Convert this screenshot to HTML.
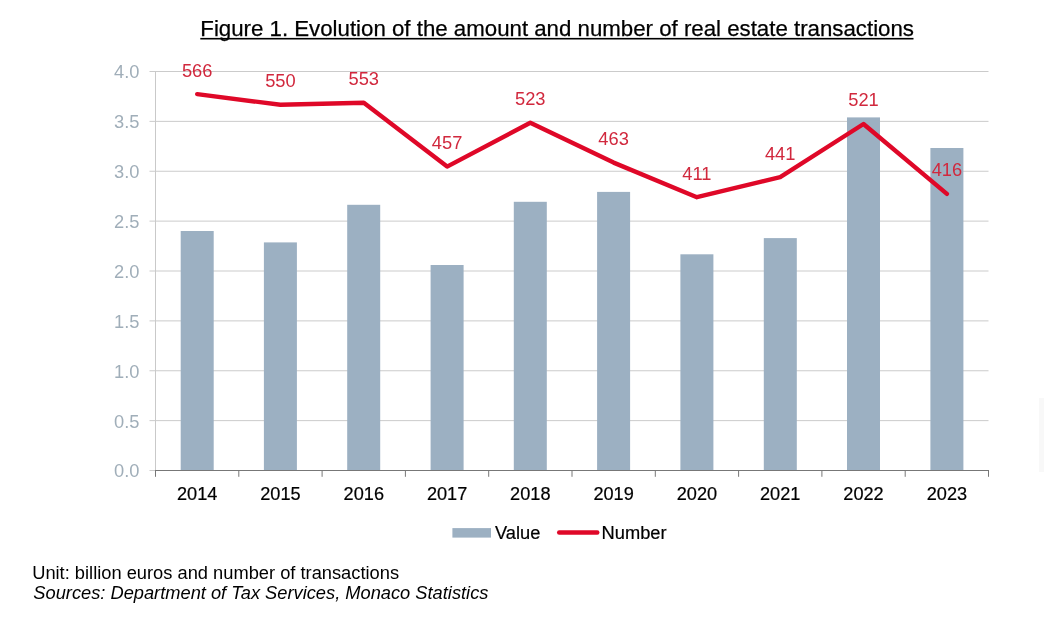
<!DOCTYPE html>
<html lang="en"><head><meta charset="utf-8"><title>Figure 1</title>
<style>
html,body{margin:0;padding:0;background:#fff;}
body{width:1044px;height:620px;overflow:hidden;font-family:"Liberation Sans",Arial,Helvetica,sans-serif;}
svg{display:block;position:absolute;left:0;top:0;}
text{font-family:"Liberation Sans",Arial,Helvetica,sans-serif;}
.t{font-size:22.25px;fill:#000;stroke:#000;stroke-width:0.25px;}
.yl{font-size:18.3px;fill:#a0aeb9;text-anchor:end;}
.xl{font-size:18.15px;fill:#000;stroke:#000;stroke-width:0.2px;text-anchor:middle;}
.dl{font-size:18.3px;fill:#d1283d;text-anchor:middle;}
.lg{font-size:18.3px;fill:#000;stroke:#000;stroke-width:0.2px;}
.ft{font-size:18.25px;fill:#000;}
</style></head><body>
<svg width="1044" height="620" viewBox="0 0 1044 620">
<rect width="1044" height="620" fill="#ffffff"/>

<text class="t" x="200.3" y="36.2">Figure 1. Evolution of the amount and number of real estate transactions</text>
<rect x="200.3" y="37.9" width="713.2" height="1.6" fill="#000"/>
<line x1="149.5" y1="470.50" x2="155.5" y2="470.50" stroke="#a8a8a8" stroke-width="0.6"/>
<text class="yl" x="139.5" y="477.4">0.0</text>
<line x1="149.5" y1="420.62" x2="988.5" y2="420.62" stroke="#a8a8a8" stroke-width="0.6"/>
<text class="yl" x="139.5" y="427.5">0.5</text>
<line x1="149.5" y1="370.75" x2="988.5" y2="370.75" stroke="#a8a8a8" stroke-width="0.6"/>
<text class="yl" x="139.5" y="377.6">1.0</text>
<line x1="149.5" y1="320.88" x2="988.5" y2="320.88" stroke="#a8a8a8" stroke-width="0.6"/>
<text class="yl" x="139.5" y="327.8">1.5</text>
<line x1="149.5" y1="271.00" x2="988.5" y2="271.00" stroke="#a8a8a8" stroke-width="0.6"/>
<text class="yl" x="139.5" y="277.9">2.0</text>
<line x1="149.5" y1="221.12" x2="988.5" y2="221.12" stroke="#a8a8a8" stroke-width="0.6"/>
<text class="yl" x="139.5" y="228.0">2.5</text>
<line x1="149.5" y1="171.25" x2="988.5" y2="171.25" stroke="#a8a8a8" stroke-width="0.6"/>
<text class="yl" x="139.5" y="178.2">3.0</text>
<line x1="149.5" y1="121.38" x2="988.5" y2="121.38" stroke="#a8a8a8" stroke-width="0.6"/>
<text class="yl" x="139.5" y="128.3">3.5</text>
<line x1="149.5" y1="71.50" x2="988.5" y2="71.50" stroke="#a8a8a8" stroke-width="0.6"/>
<text class="yl" x="139.5" y="78.4">4.0</text>
<rect x="180.7" y="231.0" width="33.0" height="239.5" fill="#9cb0c2"/>
<rect x="263.9" y="242.4" width="33.0" height="228.1" fill="#9cb0c2"/>
<rect x="347.2" y="204.8" width="33.0" height="265.7" fill="#9cb0c2"/>
<rect x="430.6" y="265.0" width="33.0" height="205.5" fill="#9cb0c2"/>
<rect x="513.8" y="201.8" width="33.0" height="268.7" fill="#9cb0c2"/>
<rect x="597.1" y="191.9" width="33.0" height="278.6" fill="#9cb0c2"/>
<rect x="680.4" y="254.3" width="33.0" height="216.2" fill="#9cb0c2"/>
<rect x="763.8" y="238.1" width="33.0" height="232.4" fill="#9cb0c2"/>
<rect x="847.0" y="117.4" width="33.0" height="353.1" fill="#9cb0c2"/>
<rect x="930.4" y="148.0" width="33.0" height="322.5" fill="#9cb0c2"/>
<line x1="155.5" y1="71.5" x2="155.5" y2="470.5" stroke="#c9c9c9" stroke-width="1"/>
<line x1="155.0" y1="470.5" x2="989.0" y2="470.5" stroke="#777" stroke-width="1"/>
<line x1="155.5" y1="470.5" x2="155.5" y2="476.8" stroke="#777" stroke-width="1"/>
<line x1="238.8" y1="470.5" x2="238.8" y2="476.8" stroke="#777" stroke-width="1"/>
<line x1="322.1" y1="470.5" x2="322.1" y2="476.8" stroke="#777" stroke-width="1"/>
<line x1="405.4" y1="470.5" x2="405.4" y2="476.8" stroke="#777" stroke-width="1"/>
<line x1="488.7" y1="470.5" x2="488.7" y2="476.8" stroke="#777" stroke-width="1"/>
<line x1="572.0" y1="470.5" x2="572.0" y2="476.8" stroke="#777" stroke-width="1"/>
<line x1="655.3" y1="470.5" x2="655.3" y2="476.8" stroke="#777" stroke-width="1"/>
<line x1="738.6" y1="470.5" x2="738.6" y2="476.8" stroke="#777" stroke-width="1"/>
<line x1="821.9" y1="470.5" x2="821.9" y2="476.8" stroke="#777" stroke-width="1"/>
<line x1="905.2" y1="470.5" x2="905.2" y2="476.8" stroke="#777" stroke-width="1"/>
<line x1="988.5" y1="470.5" x2="988.5" y2="476.8" stroke="#777" stroke-width="1"/>
<text class="xl" x="197.2" y="499.7">2014</text>
<text class="xl" x="280.4" y="499.7">2015</text>
<text class="xl" x="363.8" y="499.7">2016</text>
<text class="xl" x="447.1" y="499.7">2017</text>
<text class="xl" x="530.3" y="499.7">2018</text>
<text class="xl" x="613.6" y="499.7">2019</text>
<text class="xl" x="696.9" y="499.7">2020</text>
<text class="xl" x="780.2" y="499.7">2021</text>
<text class="xl" x="863.5" y="499.7">2022</text>
<text class="xl" x="946.9" y="499.7">2023</text>
<polyline points="197.2,94.1 280.4,104.8 363.8,102.8 447.1,166.6 530.3,122.7 613.6,162.6 696.9,197.2 780.2,177.2 863.5,124.0 946.9,193.9" fill="none" stroke="#df0828" stroke-width="4.4" stroke-linejoin="round" stroke-linecap="round"/>
<text class="dl" x="197.2" y="76.5">566</text>
<text class="dl" x="280.4" y="87.2">550</text>
<text class="dl" x="363.8" y="85.2">553</text>
<text class="dl" x="447.1" y="149.0">457</text>
<text class="dl" x="530.3" y="105.1">523</text>
<text class="dl" x="613.6" y="145.0">463</text>
<text class="dl" x="696.9" y="179.6">411</text>
<text class="dl" x="780.2" y="159.6">441</text>
<text class="dl" x="863.5" y="106.4">521</text>
<text class="dl" x="946.9" y="176.3">416</text>
<rect x="452.4" y="528.1" width="38.6" height="9.5" fill="#9cb0c2"/>
<text class="lg" x="495" y="538.6">Value</text>
<line x1="559.2" y1="532.5" x2="597.3" y2="532.5" stroke="#df0828" stroke-width="4.4" stroke-linecap="round"/>
<text class="lg" x="601.6" y="538.6">Number</text>
<rect x="1039" y="398" width="5" height="74" fill="#f8f8f8"/>
<text class="ft" x="32.2" y="578.7" style="font-size:18.3px">Unit: billion euros and number of transactions</text>
<text class="ft" x="33.3" y="599.3" font-style="italic" style="font-size:18.28px">Sources: Department of Tax Services, Monaco Statistics</text>
</svg></body></html>
